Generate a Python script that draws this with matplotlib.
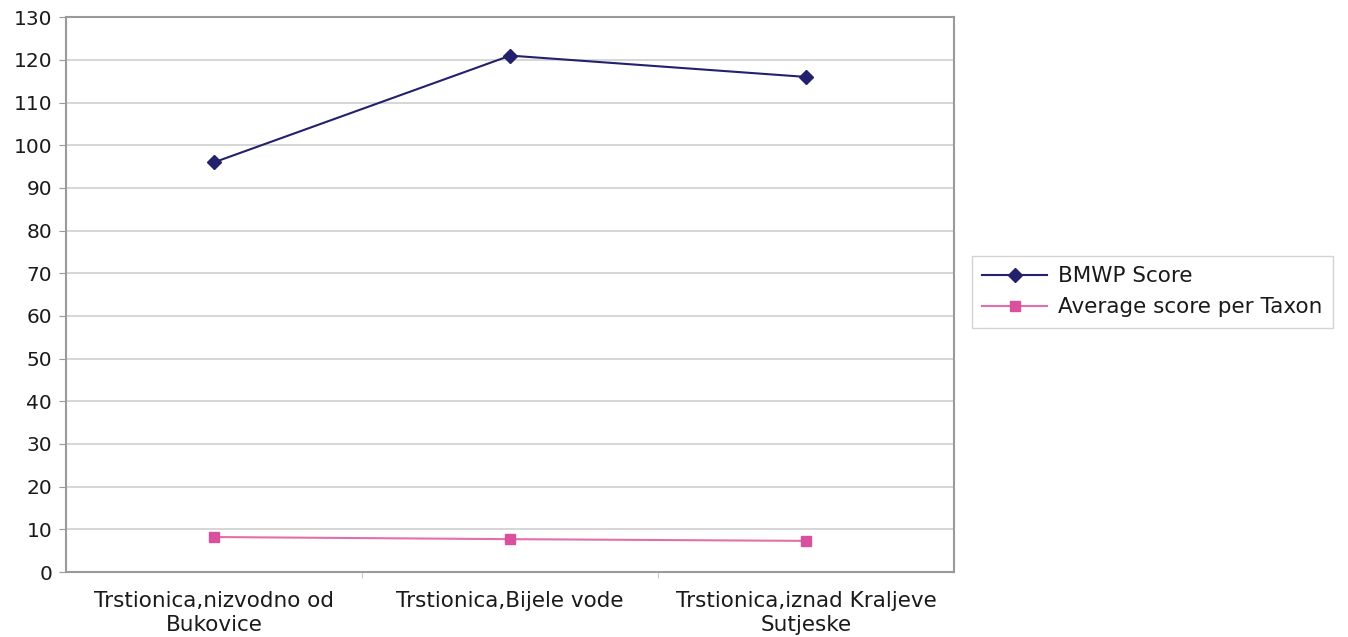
import numpy as np
from matplotlib import pyplot as plt

# sites (x categories) and scores
sites = ["Trstionica,nizvodno od\nBukovice", "Trstionica,Bijele vode", "Trstionica,iznad Kraljeve\nSutjeske"]
bmwp_score = [96, 121, 116]
avg_score_taxon = [8.2, 7.7, 7.3]
y_ticks = np.arange(0, 131, 10)

plt.rcParams['font.family'] = ['DejaVu Sans']

fig = plt.figure(figsize=(13.48, 6.37), dpi=100)
ax = fig.add_axes([0.049, 0.102, 0.659, 0.871])

x = np.arange(len(sites))
ax.plot(x, bmwp_score, color="#23206e", lw=1.5, marker="D", ms=7, label="BMWP Score")
ax.plot(x, avg_score_taxon, color="#e46fa8", lw=1.5, marker="s", ms=7,
        markerfacecolor="#d9509c", markeredgecolor="#d9509c", label="Average score per Taxon")

ax.set_xlim(-0.5, 2.5)
ax.set_ylim(0, 130)
ax.set_yticks(y_ticks)
ax.set_xticks(x)
ax.set_xticklabels(sites, fontsize=15.5, color="#1a1a1a", linespacing=1.2)
ax.tick_params(axis="x", length=0, pad=14)
ax.set_xticks([0.5, 1.5], minor=True)
ax.tick_params(axis="x", which="minor", length=4, color="#bbbbbb")
ax.tick_params(axis="y", labelsize=14.5, length=5, color="#999999", labelcolor="#1a1a1a", pad=5)
ax.grid(axis="y", color="#d0d0d0", lw=1.2)
ax.set_axisbelow(True)
for s in ax.spines.values():
    s.set_color("#9a9a9a")
    s.set_linewidth(1.5)

leg = ax.legend(loc="center left", bbox_to_anchor=(1.012, 0.505), fontsize=15.5,
                frameon=True, fancybox=False, handlelength=3.0, borderpad=0.5,
                labelspacing=0.5, handletextpad=0.5, borderaxespad=0.3)
leg.get_frame().set_edgecolor("#c8c8c8")
leg.get_frame().set_linewidth(1)
for t in leg.get_texts():
    t.set_color("#1a1a1a")

fig.savefig("out.png", dpi=100)
